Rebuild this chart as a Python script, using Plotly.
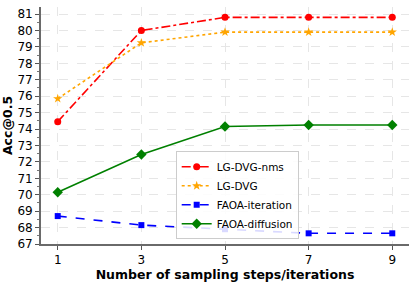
import plotly.graph_objects as go

steps = [1, 3, 5, 7, 9]
lg_dvg_nms = [74.45, 80.0, 80.8, 80.8, 80.8]
lg_dvg = [75.85, 79.25, 79.9, 79.9, 79.9]
faoa_iteration = [68.7, 68.15, 67.9, 67.65, 67.65]
faoa_diffusion = [70.15, 72.45, 74.15, 74.25, 74.25]
x_ticks = [1, 3, 5, 7, 9]
y_ticks = list(range(67, 82))

fig = go.Figure()
fig.add_trace(go.Scatter(x=steps, y=lg_dvg_nms, name="LG-DVG-nms", mode="lines+markers",
                         line=dict(color="red", width=1.6, dash="dashdot"),
                         marker=dict(symbol="circle", size=7, color="red")))
fig.add_trace(go.Scatter(x=steps, y=lg_dvg, name="LG-DVG", mode="lines+markers",
                         line=dict(color="orange", width=1.6, dash="dot"),
                         marker=dict(symbol="star", size=7, color="orange")))
fig.add_trace(go.Scatter(x=steps, y=faoa_iteration, name="FAOA-iteration", mode="lines+markers",
                         line=dict(color="blue", width=1.6, dash="dash"),
                         marker=dict(symbol="square", size=6, color="blue")))
fig.add_trace(go.Scatter(x=steps, y=faoa_diffusion, name="FAOA-diffusion", mode="lines+markers",
                         line=dict(color="green", width=1.6),
                         marker=dict(symbol="diamond", size=8, color="green")))

fig.update_layout(
    width=416, height=284,
    margin=dict(l=41, r=7, t=7, b=40, autoexpand=False),
    plot_bgcolor="white", paper_bgcolor="white",
    font=dict(family="DejaVu Sans", size=12, color="black"),
    legend=dict(x=0.366, y=0.02, xanchor="left", yanchor="bottom",
                bgcolor="rgba(255,255,255,0.85)", bordercolor="#cccccc", borderwidth=1,
                font=dict(size=10.5), tracegroupgap=0, itemwidth=30),
    xaxis=dict(range=[0.6, 9.4], tickvals=x_ticks, ticks="outside", ticklen=4,
               tickcolor="#555", showline=True, linecolor="#6a6a6a", linewidth=1.8,
               showgrid=True, gridcolor="#e6e6e6", griddash="dash", gridwidth=1,
               zeroline=False,
               title=dict(text="<b>Number of sampling steps/iterations</b>", font=dict(size=12.5), standoff=4)),
    yaxis=dict(range=[67, 81.43], tickvals=y_ticks, ticks="outside", ticklen=4,
               tickcolor="#555", showline=True, linecolor="#6a6a6a", linewidth=1.8,
               showgrid=True, gridcolor="#e6e6e6", griddash="dash", gridwidth=1,
               zeroline=False,
               minor=dict(dtick=0.5, ticks="outside", ticklen=2, tickcolor="#777", showgrid=False),
               title=dict(text="<b>Acc@0.5</b>", font=dict(size=12.5), standoff=4)),
)
fig.write_html("out.html", config={"displayModeBar": False},
               post_script="document.body.style.margin='0';")
